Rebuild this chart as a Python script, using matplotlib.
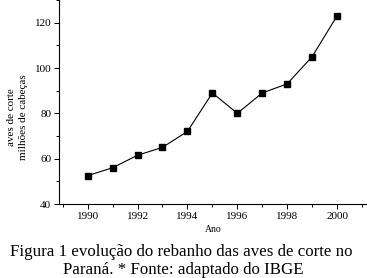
import matplotlib.pyplot as plt
from matplotlib.ticker import MultipleLocator

# data
anos = [1990, 1991, 1992, 1993, 1994, 1995, 1996, 1997, 1998, 1999, 2000]
aves = [52.5, 56, 61.5, 65, 72, 89, 80, 89, 93, 105, 123]

plt.rcParams['font.family'] = ['Liberation Serif', 'DejaVu Serif']

fig = plt.figure(figsize=(3.67, 2.78), dpi=100)
ax = fig.add_axes([59 / 367, 1 - 204 / 278, 308 / 367, 204 / 278])

ax.plot(anos, aves, color='black', linewidth=0.8, marker='s', markersize=3.8)

ax.set_xlim(1988.85, 2001.2)
ax.set_ylim(40, 130)
ax.xaxis.set_major_locator(MultipleLocator(2))
ax.xaxis.set_minor_locator(MultipleLocator(1))
ax.yaxis.set_major_locator(MultipleLocator(20))
ax.yaxis.set_minor_locator(MultipleLocator(10))
ax.tick_params(which='major', direction='out', length=3.5, width=0.7, labelsize=8, pad=2)
ax.tick_params(which='minor', direction='out', length=2, width=0.7)
ax.spines['top'].set_visible(False)
ax.spines['right'].set_visible(False)
ax.spines['left'].set_linewidth(0.8)
ax.spines['bottom'].set_linewidth(0.8)

ax.set_xlabel('Ano', fontsize=7, labelpad=3)
fig.text(12 / 367, 1 - 117 / 278, 'aves de corte', rotation=90, fontsize=8,
         ha='center', va='center')
fig.text(23.5 / 367, 1 - 117 / 278, 'milhões de cabeças', rotation=90, fontsize=8,
         ha='center', va='center')

fig.text(181 / 367, 1 - 252 / 278, 'Figura 1 evolução do rebanho das aves de corte no',
         fontsize=12.2, ha='center', va='center')
fig.text(183 / 367, 1 - 270 / 278, 'Paraná. * Fonte: adaptado do IBGE',
         fontsize=12.2, ha='center', va='center')

fig.savefig('out.png', dpi=100)
